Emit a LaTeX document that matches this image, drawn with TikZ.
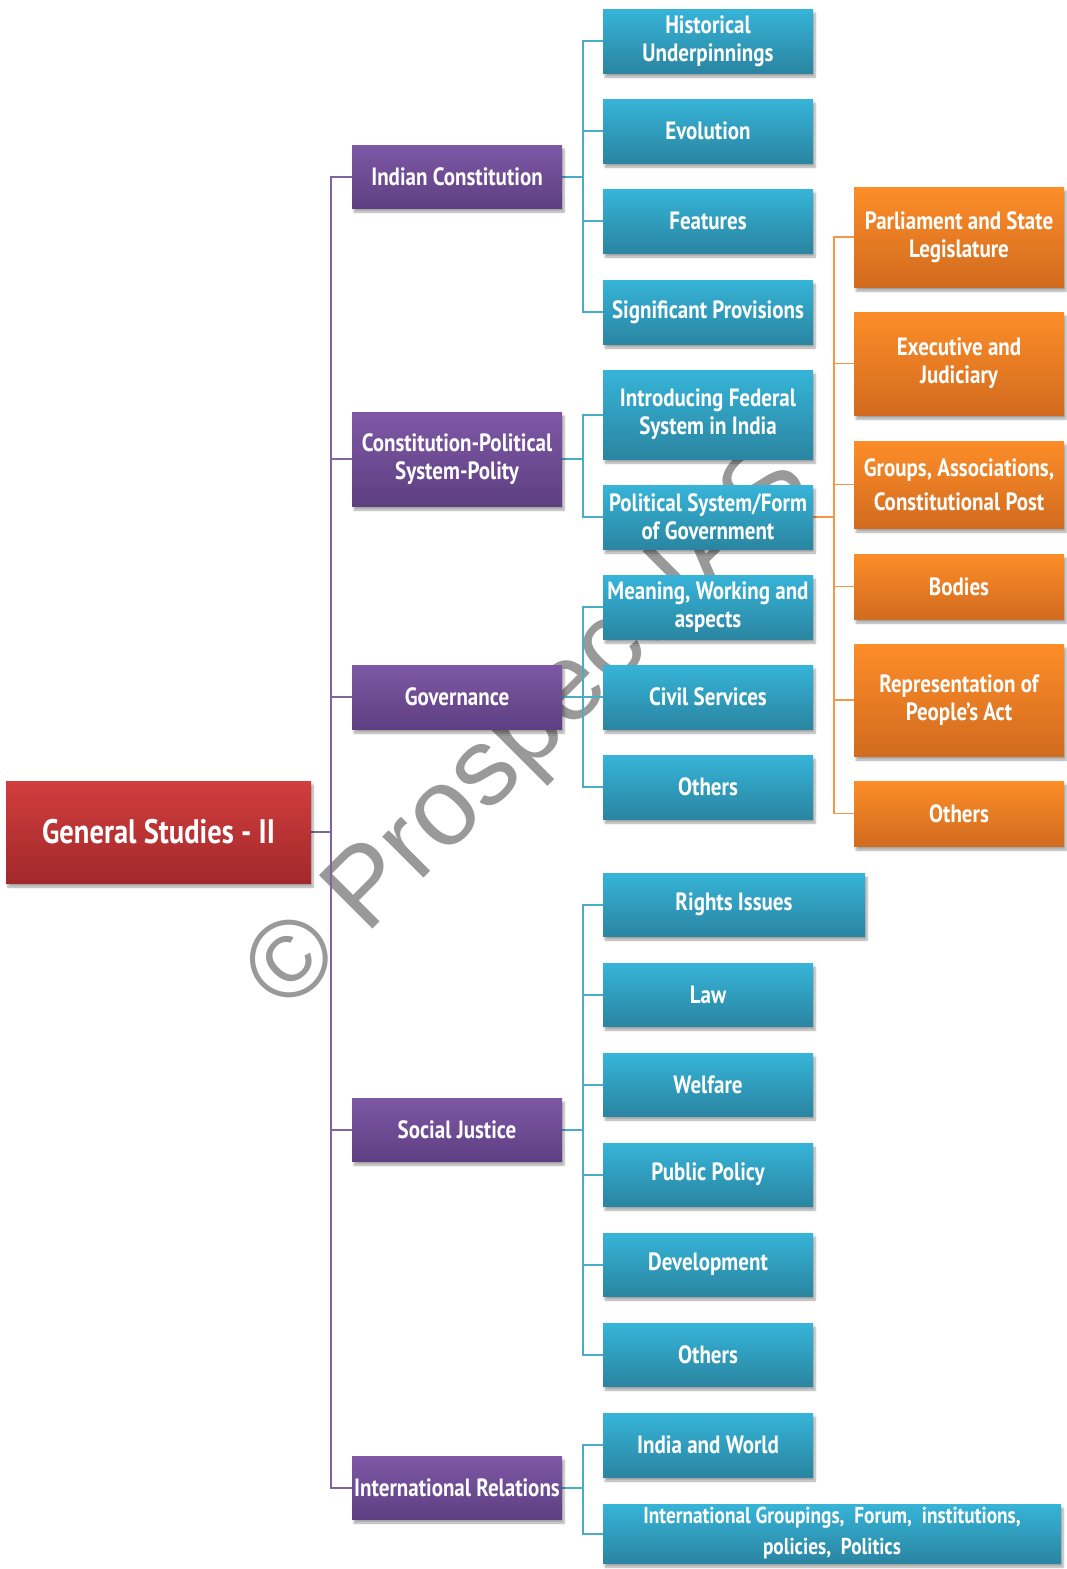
\documentclass[tikz,border=0pt]{standalone}
\usepackage{fontspec}
\setmainfont{PT Sans}[FakeStretch=0.84]
\newfontfamily\wmfont{Liberation Sans}
\usetikzlibrary{shadows.blur,backgrounds}
\definecolor{bluetop}{HTML}{36B4D8}
\definecolor{bluebot}{HTML}{2A85A1}
\definecolor{purtop}{HTML}{7E58A5}
\definecolor{purbot}{HTML}{5E3F82}
\definecolor{redtop}{HTML}{D23D3D}
\definecolor{redbot}{HTML}{A2292B}
\definecolor{ortop}{HTML}{FD8D28}
\definecolor{orbot}{HTML}{D16B1F}
\definecolor{purline}{HTML}{8064A2}
\definecolor{blueline}{HTML}{4BACC6}
\definecolor{orline}{HTML}{F79646}
\tikzset{
  box/.style={rectangle, inner sep=0pt, align=center, text=white,
    font=\bfseries\fontsize{25}{28}\selectfont,
    blur shadow={shadow xshift=2pt, shadow yshift=-4pt, shadow opacity=35, shadow blur steps=6}},
  bluebox/.style={box, top color=bluetop, bottom color=bluebot},
  purbox/.style={box, top color=purtop, bottom color=purbot},
  orbox/.style={box, top color=ortop, bottom color=orbot},
  redbox/.style={box, top color=redtop, bottom color=redbot, font=\bfseries\fontsize{34}{40}\selectfont},
  purconn/.style={draw=purline, line width=2pt},
  blueconn/.style={draw=blueline, line width=2pt},
  orconn/.style={draw=orline, line width=1.6pt},
}
\begin{document}
\begin{tikzpicture}[x=1pt,y=-1pt]
\useasboundingbox (0,0) rectangle (1067,1569);
% root
\node[redbox, minimum width=305pt, minimum height=102pt] (root) at (158.5,832) {General Studies - II};
% purple
\node[purbox, minimum width=210pt, minimum height=63pt] (ic) at (457,176.5) {Indian Constitution};
\node[purbox, minimum width=210pt, minimum height=94pt] (cp) at (457,459) {Constitution-Political\\System-Polity};
\node[purbox, minimum width=210pt, minimum height=64pt] (gov) at (457,697) {Governance};
\node[purbox, minimum width=210pt, minimum height=63pt] (sj) at (457,1129.5) {Social Justice};
\node[purbox, minimum width=210pt, minimum height=63pt] (ir) at (457,1487.5) {International Relations};
% blue
\node[bluebox, minimum width=210pt, minimum height=64pt] (hu) at (708,41) {Historical\\Underpinnings};
\node[bluebox, minimum width=210pt, minimum height=64pt] (ev) at (708,131) {Evolution};
\node[bluebox, minimum width=210pt, minimum height=64pt] (fe) at (708,221) {Features};
\node[bluebox, minimum width=210pt, minimum height=64pt] (sp) at (708,312) {Significant Provisions};
\node[bluebox, minimum width=210pt, minimum height=89pt] (if) at (708,414.5) {Introducing Federal\\System in India};
\node[bluebox, minimum width=210pt, minimum height=64pt] (ps) at (708,517) {Political System/Form\\of Government};
\node[bluebox, minimum width=210pt, minimum height=64pt] (mw) at (708,607) {Meaning, Working and\\aspects};
\node[bluebox, minimum width=210pt, minimum height=64pt] (cs) at (708,697) {Civil Services};
\node[bluebox, minimum width=210pt, minimum height=64pt] (ot1) at (708,787) {Others};
\node[bluebox, minimum width=262pt, minimum height=63pt] (ri) at (734,904.5) {Rights Issues};
\node[bluebox, minimum width=210pt, minimum height=63pt] (law) at (708,994.5) {Law};
\node[bluebox, minimum width=210pt, minimum height=63pt] (wel) at (708,1084.5) {Welfare};
\node[bluebox, minimum width=210pt, minimum height=63pt] (pp) at (708,1174.5) {Public Policy};
\node[bluebox, minimum width=210pt, minimum height=63pt] (dev) at (708,1264.5) {Development};
\node[bluebox, minimum width=210pt, minimum height=63pt] (ot2) at (708,1354.5) {Others};
\node[bluebox, minimum width=210pt, minimum height=64pt] (iw) at (708,1445) {India and World};
\node[bluebox, minimum width=458pt, minimum height=59pt, font=\bfseries\fontsize{23}{31}\selectfont] (ig) at (832,1533.5) {International Groupings,\ \ Forum,\ \ institutions,\\policies,\ \ Politics};
% orange
\node[orbox, minimum width=210pt, minimum height=100pt] (pl) at (959,237) {Parliament and State\\Legislature};
\node[orbox, minimum width=210pt, minimum height=103pt] (ej) at (959,363.5) {Executive and\\Judiciary};
\node[orbox, minimum width=210pt, minimum height=87pt, font=\bfseries\fontsize{25}{34}\selectfont] (ga) at (959,484.5) {Groups,\ Associations,\\Constitutional Post};
\node[orbox, minimum width=210pt, minimum height=65pt] (bo) at (959,586.5) {Bodies};
\node[orbox, minimum width=210pt, minimum height=112pt] (rp) at (959,700) {Representation of\\People's Act};
\node[orbox, minimum width=210pt, minimum height=65pt] (ot3) at (959,813.5) {Others};
% watermark and connectors (behind boxes)
\begin{scope}[on background layer]
\node[rotate=45, anchor=base west, text=black!40, font=\wmfont\fontsize{110}{110}\selectfont, inner sep=0pt] (wm) at (287.5,1014.5) {\char"00A9\ Prospect\kern-8pt\ IAS};
\coordinate (T) at (331,832);
\draw[purconn] (root.east) -- (T);
\foreach \n in {ic,cp,gov,sj,ir} \draw[purconn] (T) |- (\n.west);
\coordinate (B1) at (583,176.5);
\draw[blueconn] (ic.east) -- (B1);
\foreach \n in {hu,ev,fe,sp} \draw[blueconn] (B1) |- (\n.west);
\coordinate (B2) at (583,459);
\draw[blueconn] (cp.east) -- (B2);
\foreach \n in {if,ps} \draw[blueconn] (B2) |- (\n.west);
\coordinate (B3) at (583,697);
\draw[blueconn] (gov.east) -- (B3);
\foreach \n in {mw,cs,ot1} \draw[blueconn] (B3) |- (\n.west);
\coordinate (B4) at (583,1129.5);
\draw[blueconn] (sj.east) -- (B4);
\foreach \n in {ri,law,wel,pp,dev,ot2} \draw[blueconn] (B4) |- (\n.west);
\coordinate (B5) at (583,1487.5);
\draw[blueconn] (ir.east) -- (B5);
\foreach \n in {iw,ig} \draw[blueconn] (B5) |- (\n.west);
\coordinate (O1) at (834,517);
\draw[orconn] (ps.east) -- (O1);
\foreach \n in {pl,ej,ga,bo,rp,ot3} \draw[orconn] (O1) |- (\n.west);
\end{scope}
\end{tikzpicture}
\end{document}
